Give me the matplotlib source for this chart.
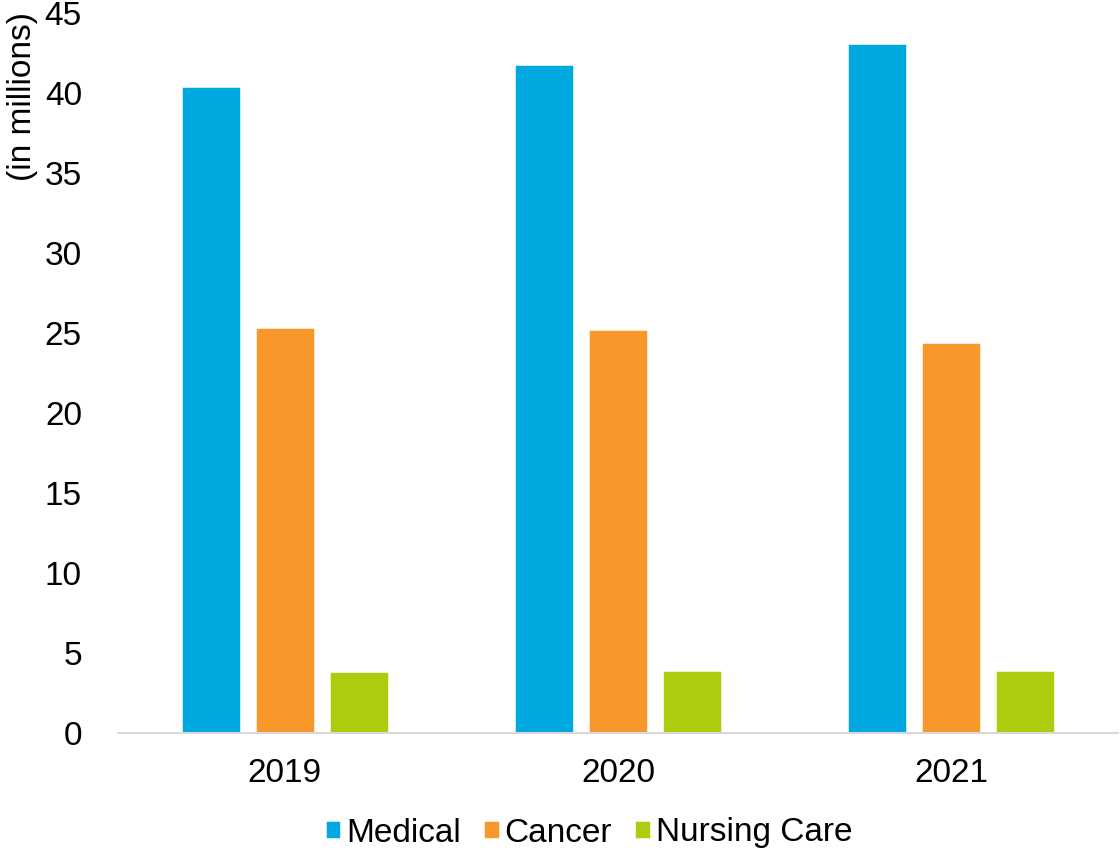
import numpy as np
import matplotlib
matplotlib.use("Agg")
import matplotlib.pyplot as plt

plt.rcParams['font.family'] = ['Liberation Sans', 'DejaVu Sans']

years = ['2019', '2020', '2021']
series_names = ['Medical', 'Cancer', 'Nursing Care']
medical = [40.4, 41.75, 43.05]
cancer = [25.3, 25.2, 24.4]
nursing_care = [3.8, 3.85, 3.9]
colors = ['#00A8E0', '#F8972A', '#AFCB0E']

fig = plt.figure(figsize=(11.2, 8.5), dpi=100)
ax = fig.add_axes([0.1054, 0.1376, 0.8926, 0.8471])

x = np.arange(len(years))
width = 0.174
step = 0.222
for i, (vals, name, col) in enumerate(zip([medical, cancer, nursing_care], series_names, colors)):
    ax.bar(x + (i - 1) * step, vals, width, color=col, label=name,
           edgecolor='white', linewidth=0.4)

ax.set_xlim(-0.5, 2.5)
ax.set_ylim(0, 45)
ax.set_yticks(range(0, 46, 5))
ax.set_xticks(x)
ax.set_xticklabels(years)
ax.tick_params(axis='both', length=0, labelsize=24)
ax.tick_params(axis='y', pad=26)
ax.tick_params(axis='x', pad=18)

for side in ['top', 'right', 'left']:
    ax.spines[side].set_visible(False)
ax.spines['bottom'].set_color('#D9D9D9')
ax.spines['bottom'].set_linewidth(1.5)

fig.text(23 / 1120, 1 - 12 / 850, '(in millions)', rotation=90,
         ha='center', va='top', fontsize=24)

fig.legend(loc='center', bbox_to_anchor=(0.526, 1 - 833 / 850), ncol=3,
           frameon=False, fontsize=24, handlelength=0.43, handleheight=0.43,
           handletextpad=0.18, columnspacing=0.7)

fig.savefig('out.png', dpi=100)
